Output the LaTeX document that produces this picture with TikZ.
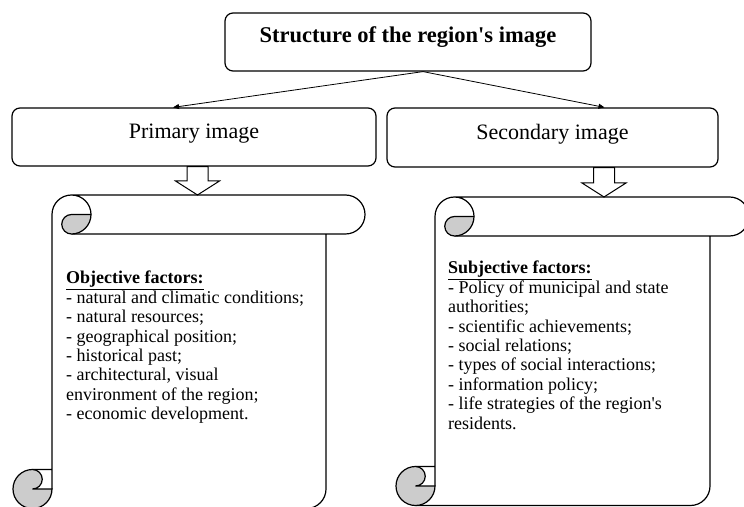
\documentclass[tikz,border=0pt]{standalone}
\usepackage{fontspec}
\setmainfont{Liberation Serif}
\usetikzlibrary{calc,positioning,arrows.meta}

\tikzset{
  box/.style={draw, rounded corners=8pt, line width=1.2pt, inner sep=0pt,
    text height=15pt, text depth=11pt, font=\fontsize{22}{24}\selectfont},
  scrollarea/.style={inner sep=0pt, outer sep=0pt},
  factors/.style={align=left, inner sep=0pt, anchor=north west,
    font=\fontsize{18}{19.4}\selectfont},
  link/.style={-{Triangle[length=6pt,width=5pt]}, line width=0.8pt},
  hollow/.style={draw, line width=1pt, fill=white, line join=miter},
  curl/.style={draw, fill=black!20, line width=1.2pt},
}

% scroll outline drawn round the corners of node #1 (band height 39)
\newcommand{\scrollframe}[1]{%
  \draw[line width=1.2pt] let \p1=(#1.north west), \p2=(#1.south east) in
    (\x1+58.5,\y1) -- (\x2-19.5,\y1) arc[start angle=90, end angle=-90, radius=19.5]
    -- (\x1+58.5,\y1-39)
    (\x1+78,\y1-19.5) arc[start angle=0, end angle=180, radius=19.5]
    -- (\x1+39,\y2+19.5)
    (\x2-39,\y1-39) -- (\x2-39,\y2+19.5) arc[start angle=0, end angle=-90, radius=19.5]
    -- (\x1+19.5,\y2)
    (\x1+19.5,\y2+39) -- (\x1+39,\y2+39);
  \filldraw[curl] let \p1=(#1.north west) in
    (\x1+58.5,\y1-19.5) arc[start angle=90, end angle=270, radius=9.75]
    arc[start angle=270, end angle=360, radius=19.5] -- cycle;
  \filldraw[curl] let \p1=(#1.north west), \p2=(#1.south east) in
    (\x1+39,\y2+19.5) -- (\x1+19.5,\y2+19.5) arc[start angle=-90, end angle=90, radius=9.75]
    arc[start angle=90, end angle=360, radius=19.5] -- cycle;
}

% hollow block arrow from #1 (top centre) down to #2 (tip)
\newcommand{\hollowdown}[2]{%
  \draw[hollow] let \p1=(#1), \p2=(#2) in
    (\x1-10.5,\y1) -- (\x1+10.5,\y1) -- (\x1+10.5,\y2+14) -- (\x1+22,\y2+14)
    -- (\x1,\y2) -- (\x1-22,\y2+14) -- (\x1-10.5,\y2+14) -- cycle;
}

\begin{document}
\begin{tikzpicture}[x=1pt, y=1pt]
  \useasboundingbox (0,0) rectangle (744,506);

  % ── Row 0: title ──────────────────────────────────────────────
  \node[box, minimum width=366pt, minimum height=58pt, text depth=14pt,
    font=\fontsize{22.5}{25}\selectfont\bfseries] (title) at (408,464)
    {Structure of the region\textquotesingle s image};

  % ── Row 1: the two kinds of image ─────────────────────────────
  \node[box, minimum width=364pt, minimum height=58pt] (prim) at (194,369) {Primary image};
  \node[box, minimum width=331pt, minimum height=59pt] (sec)  at (552.5,368.5) {Secondary image};

  \coordinate (fork) at ([xshift=15pt]title.south);
  \draw[link] (fork) -- ([xshift=-21pt]prim.north);
  \draw[link] (fork) -- ([xshift=52pt]sec.north);

  % ── Row 2: scrolls with the factors ───────────────────────────
  \node[scrollarea, minimum width=352pt, minimum height=313.5pt] (obj)  at (189,154.25) {};
  \node[scrollarea, minimum width=353pt, minimum height=308.5pt] (subj) at (572.5,154.75) {};
  \scrollframe{obj}
  \scrollframe{subj}

  \node[factors] (objtext) at ([xshift=53pt, yshift=-76pt]obj.north west)
    {\underline{\textbf{Objective factors:}}\\
     - natural and climatic conditions;\\
     - natural resources;\\
     - geographical position;\\
     - historical past;\\
     - architectural, visual\\
     environment of the region;\\
     - economic development.};

  \node[factors] (subjtext) at ([xshift=52pt, yshift=-64pt]subj.north west)
    {\underline{\textbf{Subjective factors:}}\\
     - Policy of municipal and state\\
     authorities;\\
     - scientific achievements;\\
     - social relations;\\
     - types of social interactions;\\
     - information policy;\\
     - life strategies of the region\textquotesingle s\\
     residents.};

  % ── Block arrows into the scrolls ─────────────────────────────
  \coordinate (pa) at ([xshift=3.5pt]prim.south);
  \coordinate (sa) at ([xshift=51.5pt]sec.south);
  \hollowdown{pa}{pa |- obj.north}
  \hollowdown{sa}{sa |- subj.north}

\end{tikzpicture}
\end{document}
